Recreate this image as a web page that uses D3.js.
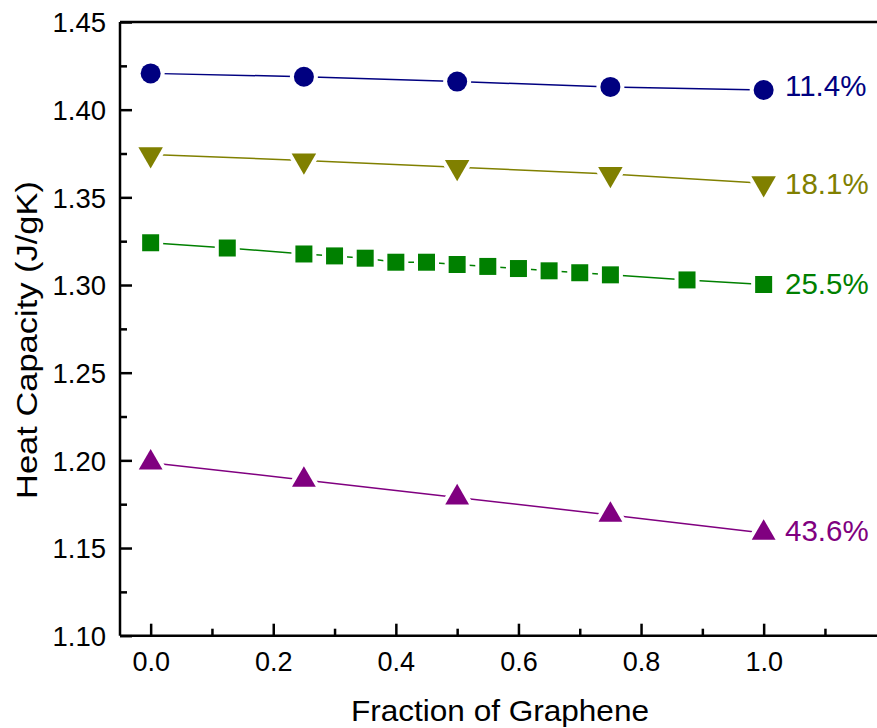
<!DOCTYPE html>
<html>
<head>
<meta charset="utf-8">
<script src="https://cdn.jsdelivr.net/npm/d3@7/dist/d3.min.js"></script>
<style>
  html, body { margin: 0; padding: 0; background: #fff; }
  svg { display: block; }
  text { font-family: "Liberation Sans", Arial, Helvetica, sans-serif; }
</style>
</head>
<body>
<svg id="chart" width="877" height="728"></svg>
<script>
// ---------- data ----------
const xFive = [0, 0.25, 0.5, 0.75, 1.0];
const xGreen = [0, 0.125, 0.25, 0.3, 0.35, 0.4, 0.45, 0.5, 0.55, 0.6, 0.65, 0.7, 0.75, 0.875, 1.0];

const blueValues   = [1.4207, 1.4188, 1.416, 1.413, 1.4112];
const oliveValues  = [1.3745, 1.371, 1.3672, 1.3633, 1.358];
const greenValues  = [1.3241, 1.3211, 1.3177, 1.3166, 1.3153, 1.3130, 1.3130, 1.3117, 1.3106, 1.3094, 1.3081, 1.3070, 1.3058, 1.3029, 1.3003];
const purpleValues = [1.1987, 1.1888, 1.1788, 1.1689, 1.1586];

const seriesLabels = ["11.4%", "18.1%", "25.5%", "43.6%"];

const xMajorTicks = [0, 0.2, 0.4, 0.6, 0.8, 1.0];
const xMinorTicks = [0.1, 0.3, 0.5, 0.7, 0.9, 1.1];
const yMajorTicks = [1.10, 1.15, 1.20, 1.25, 1.30, 1.35, 1.40, 1.45];
const yMinorTicks = [1.125, 1.175, 1.225, 1.275, 1.325, 1.375, 1.425];

const xTitle = "Fraction of Graphene";
const yTitle = "Heat Capacity (J/gK)";

// ---------- styles ----------
const series = [
  { x: xFive,  y: blueValues,   label: seriesLabels[0], color: "#000080", symbol: "circle",   labelDy: 6 },
  { x: xFive,  y: oliveValues,  label: seriesLabels[1], color: "#808000", symbol: "triDown",  labelDy: 11 },
  { x: xGreen, y: greenValues,  label: seriesLabels[2], color: "#008000", symbol: "square",   labelDy: 10 },
  { x: xFive,  y: purpleValues, label: seriesLabels[3], color: "#800080", symbol: "triUp",    labelDy: 8.5 }
];

(function draw() {
  const svg = d3.select("#chart");
  const pLeft = 120, pTop = 22, pBottom = 635.7;
  const xScale = d3.scaleLinear().domain([-0.05, 1.2]).range([pLeft, pLeft + 1.25 * 613]);
  const yScale = d3.scaleLinear().domain([1.10, 1.45]).range([pBottom, pTop]);
  const pRight = xScale.range()[1];

  const axisColor = "#000";
  svg.append("line").attr("x1", pLeft).attr("x2", pRight).attr("y1", pTop).attr("y2", pTop)
    .attr("stroke", axisColor).attr("stroke-width", 2.5);
  svg.append("line").attr("x1", pRight).attr("x2", pRight).attr("y1", pTop).attr("y2", pBottom)
    .attr("stroke", axisColor).attr("stroke-width", 2.5);

  // bottom axis (ticks inward)
  const xAxis = d3.axisBottom(xScale).tickValues(xMajorTicks).tickSize(-12).tickPadding(24)
    .tickFormat(d3.format(".1f"));
  const gx = svg.append("g").attr("transform", `translate(0,${pBottom})`).call(xAxis);
  gx.select(".domain").attr("d", `M${pLeft},0H${pRight}`).attr("stroke-width", 2.5);
  gx.selectAll(".tick line").attr("stroke-width", 2.5);
  gx.selectAll(".tick text").attr("font-size", 27).attr("fill", "#000")
    .attr("font-family", "Liberation Sans, Arial, sans-serif").attr("dy", 0).attr("y", 35.3);
  const gxm = svg.append("g").attr("transform", `translate(0,${pBottom})`)
    .call(d3.axisBottom(xScale).tickValues(xMinorTicks).tickSize(-7).tickFormat(""));
  gxm.select(".domain").remove();
  gxm.selectAll(".tick line").attr("stroke-width", 2.5);

  // left axis (ticks inward)
  const yAxis = d3.axisLeft(yScale).tickValues(yMajorTicks).tickSize(-12).tickPadding(14)
    .tickFormat(d3.format(".2f"));
  const gy = svg.append("g").attr("transform", `translate(${pLeft},0)`).call(yAxis);
  gy.select(".domain").attr("d", `M0,${pTop}V${pBottom}`).attr("stroke-width", 2.5);
  gy.selectAll(".tick line").attr("stroke-width", 2.5);
  gy.selectAll(".tick text").attr("font-size", 27.5).attr("fill", "#000")
    .attr("font-family", "Liberation Sans, Arial, sans-serif").attr("dy", "0.36em").attr("x", -14);
  const gym = svg.append("g").attr("transform", `translate(${pLeft},0)`)
    .call(d3.axisLeft(yScale).tickValues(yMinorTicks).tickSize(-7).tickFormat(""));
  gym.select(".domain").remove();
  gym.selectAll(".tick line").attr("stroke-width", 2.5);

  // titles
  svg.append("text").attr("x", 500).attr("y", 720.7).attr("text-anchor", "middle")
    .attr("font-size", 29.5).attr("textLength", 298).attr("lengthAdjust", "spacingAndGlyphs")
    .attr("fill", "#000").text(xTitle);
  svg.append("text").attr("transform", "translate(37,340) rotate(-90)").attr("text-anchor", "middle")
    .attr("font-size", 29.5).attr("textLength", 318).attr("lengthAdjust", "spacingAndGlyphs")
    .attr("fill", "#000").text(yTitle);

  const symGen = {
    circle:  d3.symbol(d3.symbolCircle, Math.PI * 10 * 10),
    square:  d3.symbol(d3.symbolSquare, 17 * 17),
    triUp:   d3.symbol(d3.symbolTriangle, 245),
    triDown: d3.symbol(d3.symbolTriangle, 260)
  };

  const line = d3.line().x(d => xScale(d[0])).y(d => yScale(d[1]));

  series.forEach(s => {
    const pts = s.x.map((xv, i) => [xv, s.y[i]]);
    svg.append("path").datum(pts).attr("d", line)
      .attr("fill", "none").attr("stroke", s.color).attr("stroke-width", 1.5);
  });

  series.forEach(s => {
    const pts = s.x.map((xv, i) => [xv, s.y[i]]);
    svg.append("g").selectAll("path").data(pts).join("path")
      .attr("d", symGen[s.symbol]())
      .attr("transform", d => `translate(${xScale(d[0])},${yScale(d[1])})` + (s.symbol === "triDown" ? " rotate(180)" : ""))
      .attr("fill", s.color)
      .attr("stroke", "#fff").attr("stroke-width", 8)
      .style("paint-order", "stroke");
    const last = pts[pts.length - 1];
    svg.append("text").attr("x", 785).attr("y", yScale(last[1]) + s.labelDy)
      .attr("font-size", 29.5).attr("fill", s.color).text(s.label);
  });
})();
</script>
</body>
</html>
